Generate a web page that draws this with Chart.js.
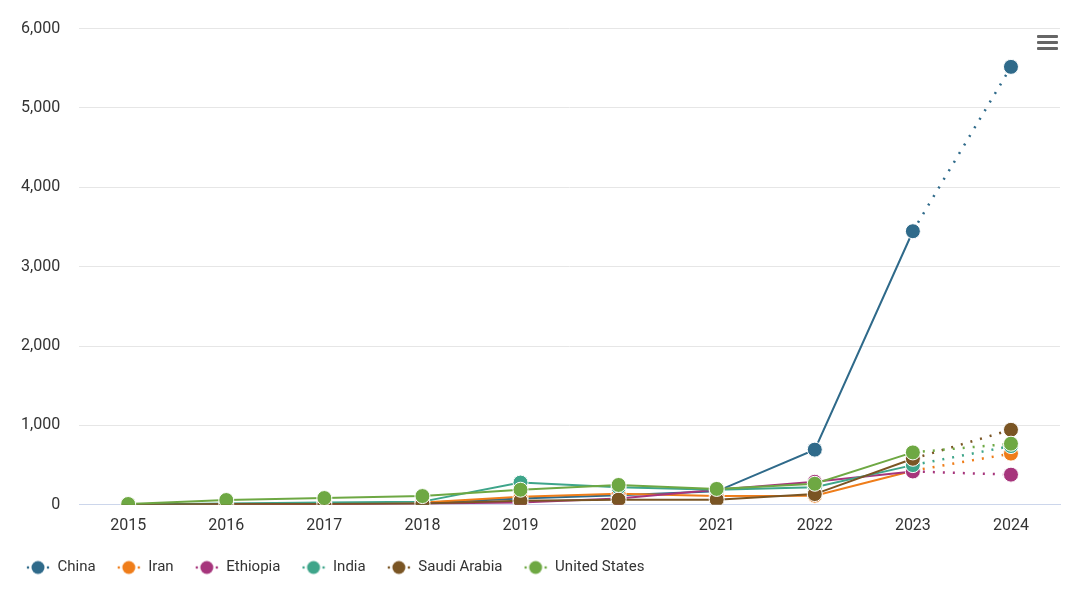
<!DOCTYPE html>
<html>
<head>
<meta charset="utf-8">
<script src="https://cdn.jsdelivr.net/npm/chart.js@4.4.1/dist/chart.umd.min.js"></script>
<style>
  html, body { margin: 0; padding: 0; background: #fff; }
  #wrap { position: relative; width: 1080px; height: 592px; }
  #menu { position: absolute; left: 1037px; top: 35px; width: 21px; }
  #menu div { height: 3px; background: #666; margin-bottom: 3px; border-radius: 1px; }
</style>
</head>
<body>
<div id="wrap">
  <canvas id="chart" width="1080" height="592"></canvas>
  <div id="menu"><div></div><div></div><div></div></div>
</div>
<script>
const years = ["2015", "2016", "2017", "2018", "2019", "2020", "2021", "2022", "2023", "2024"];
const yTicks = [0, 1000, 2000, 3000, 4000, 5000, 6000];

const china = [5, 10, 15, 25, 80, 120, 170, 695, 3447, 5518];
const iran = [3, 8, 12, 30, 100, 140, 110, 115, 430, 645];
const ethiopia = [2, 5, 8, 15, 30, 80, 190, 290, 420, 380];
const india = [5, 15, 30, 40, 280, 220, 190, 220, 500, 740];
const saudiArabia = [2, 10, 10, 15, 50, 65, 65, 135, 580, 945];
const unitedStates = [10, 60, 85, 110, 190, 250, 200, 265, 660, 770];

const series = [
  { label: "China", data: china, color: "#2f6a8a" },
  { label: "Iran", data: iran, color: "#ef7d1a" },
  { label: "Ethiopia", data: ethiopia, color: "#a6357c" },
  { label: "India", data: india, color: "#3ea58a" },
  { label: "Saudi Arabia", data: saudiArabia, color: "#7a5524" },
  { label: "United States", data: unitedStates, color: "#6ea843" },
];

const lastIndex = years.length - 1;

// legend marker: dotted line with a circle in the middle
function legendSymbol(color) {
  const c = document.createElement("canvas");
  c.width = 24;
  c.height = 16;
  const ctx = c.getContext("2d");
  ctx.fillStyle = color;
  ctx.beginPath();
  ctx.arc(2, 8, 1.3, 0, Math.PI * 2);
  ctx.arc(22, 8, 1.3, 0, Math.PI * 2);
  ctx.fill();
  ctx.beginPath();
  ctx.arc(12, 8, 6.5, 0, Math.PI * 2);
  ctx.fill();
  return c;
}

// nudge the legend box after layout
const legendShift = {
  id: "legendShift",
  afterLayout(chart) {
    if (chart.legend) {
      chart.legend.left += 14;
      chart.legend.top += 10;
    }
  },
};

const datasets = series.map((s, i) => ({
  label: s.label,
  data: s.data,
  order: series.length - i,
  borderColor: s.color,
  backgroundColor: s.color,
  pointBackgroundColor: s.color,
  pointBorderColor: "#ffffff",
  pointBorderWidth: 1,
  pointRadius: 7.5,
  pointHoverRadius: 8,
  borderWidth: 2,
  tension: 0,
  segment: {
    borderDash: (ctx) => (ctx.p1DataIndex === lastIndex ? [2, 8] : undefined),
    borderWidth: (ctx) => (ctx.p1DataIndex === lastIndex ? 2.5 : 2),
  },
}));

new Chart(document.getElementById("chart"), {
  type: "line",
  data: { labels: years, datasets },
  plugins: [legendShift],
  options: {
    responsive: false,
    animation: false,
    layout: { padding: { top: 25, right: 20, left: 2, bottom: 17 } },
    plugins: {
      tooltip: { enabled: false },
      legend: {
        position: "bottom",
        align: "start",
        labels: {
          color: "#333",
          font: { family: "Roboto", size: 15 },
          usePointStyle: true,
          pointStyleWidth: 24,
          boxHeight: 16,
          padding: 10,
          generateLabels: (chart) =>
            chart.data.datasets.map((ds, i) => ({
              text: ds.label + "   ",
              fillStyle: ds.borderColor,
              strokeStyle: ds.borderColor,
              lineWidth: 0,
              pointStyle: legendSymbol(ds.borderColor),
              datasetIndex: i,
              hidden: !chart.isDatasetVisible(i),
              fontColor: "#333",
            })),
        },
      },
    },
    scales: {
      x: {
        offset: true,
        grid: { display: false },
        border: { color: "#ccd6eb", width: 1 },
        ticks: { color: "#333", font: { family: "Roboto", size: 16 }, padding: 4, maxRotation: 0 },
      },
      y: {
        min: 0,
        max: 6000,
        afterBuildTicks: (axis) => {
          axis.ticks = yTicks.map((v) => ({ value: v }));
        },
        grid: { color: "#e6e6e6", drawTicks: false },
        border: { display: false },
        ticks: {
          color: "#333",
          font: { family: "Roboto", size: 16 },
          padding: 19,
          callback: (v) => v.toLocaleString("en-US"),
        },
      },
    },
  },
});
</script>
</body>
</html>
